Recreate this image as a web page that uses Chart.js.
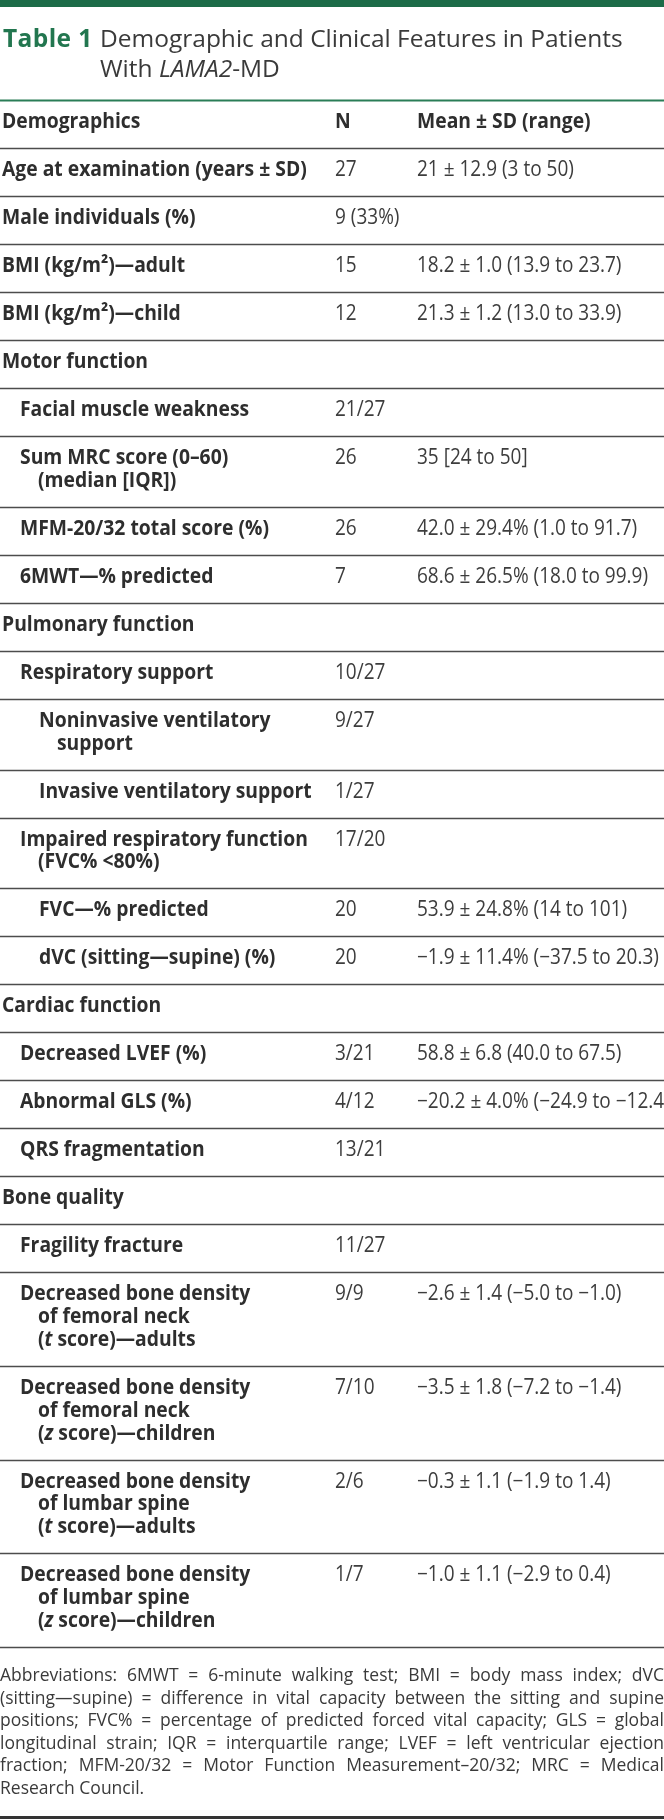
<!DOCTYPE html>
<html>
<head>
<meta charset="utf-8">
<title>Table 1 Demographic and Clinical Features in Patients With LAMA2-MD</title>
<script src="https://cdn.jsdelivr.net/npm/chart.js@4.4.1/dist/chart.umd.min.js"></script>
<style>
  html, body { margin: 0; padding: 0; background: #fff; }
  body { width: 664px; height: 1820px; position: relative; overflow: hidden; font-family: "Open Sans", sans-serif; }
  #topBar { position: absolute; left: 0; top: 0; width: 664px; height: 7px; background: #1d6b48; }
  #bottomRule { position: absolute; left: 0; top: 1816px; width: 664px; height: 3px; background: #333; }
  #tableCanvas { position: absolute; left: 0; top: 0; }
  .cap { position: absolute; top: 23px; white-space: nowrap; font-size: 24.5px; line-height: 30px; color: #3a3a3a; }
  .cap b { color: #22764f; font-weight: 700; letter-spacing: 0.4px; }
  #notes { position: absolute; left: 0; top: 1663px; width: 664px; font-size: 17.5px; line-height: 22.5px; color: #3a3a3a; }
  #notes div { height: 22.5px; white-space: nowrap; }
  #notes span { display: inline-block; white-space: nowrap; transform-origin: 0 0; }
</style>
</head>
<body>
<div id="topBar"></div>
<canvas id="tableCanvas" width="664" height="1820"></canvas>
<div class="cap" style="left:3px"><b>Table 1</b></div>
<div class="cap" style="left:100px">Demographic and Clinical Features in Patients<br>With <i>LAMA2</i>-MD</div>
<div id="notes">
  <div><span>Abbreviations: 6MWT = 6-minute walking test; BMI = body mass index; dVC</span></div>
  <div><span>(sitting—supine) = difference in vital capacity between the sitting and supine</span></div>
  <div><span>positions; FVC% = percentage of predicted forced vital capacity; GLS = global</span></div>
  <div><span>longitudinal strain; IQR = interquartile range; LVEF = left ventricular ejection</span></div>
  <div><span>fraction; MFM-20/32 = Motor Function Measurement–20/32; MRC = Medical</span></div>
  <div class="last"><span>Research Council.</span></div>
</div>
<div id="bottomRule"></div>
<script>
// ── Table data ──
const headers = ['Demographics', 'N', 'Mean ± SD (range)'];

// row labels, one entry per text line; _x_ = italic
const categories = [
  ['Age at examination (years ± SD)'],
  ['Male individuals (%)'],
  ['BMI (kg/m²)—adult'],
  ['BMI (kg/m²)—child'],
  ['Motor function'],
  ['Facial muscle weakness'],
  ['Sum MRC score (0–60)', '(median [IQR])'],
  ['MFM-20/32 total score (%)'],
  ['6MWT—% predicted'],
  ['Pulmonary function'],
  ['Respiratory support'],
  ['Noninvasive ventilatory', 'support'],
  ['Invasive ventilatory support'],
  ['Impaired respiratory function', '(FVC% <80%)'],
  ['FVC—% predicted'],
  ['dVC (sitting—supine) (%)'],
  ['Cardiac function'],
  ['Decreased LVEF (%)'],
  ['Abnormal GLS (%)'],
  ['QRS fragmentation'],
  ['Bone quality'],
  ['Fragility fracture'],
  ['Decreased bone density', 'of femoral neck', '(_t_ score)—adults'],
  ['Decreased bone density', 'of femoral neck', '(_z_ score)—children'],
  ['Decreased bone density', 'of lumbar spine', '(_t_ score)—adults'],
  ['Decreased bone density', 'of lumbar spine', '(_z_ score)—children']
];

// indent level of each row
const levels = [0, 0, 0, 0, 0, 1, 1, 1, 1, 0, 1, 2, 2, 1, 2, 2, 0, 1, 1, 1, 0, 1, 1, 1, 1, 1];

const nValues = [
  '27', '9 (33%)', '15', '12', '',
  '21/27', '26', '26', '7', '',
  '10/27', '9/27', '1/27', '17/20', '20', '20', '',
  '3/21', '4/12', '13/21', '',
  '11/27', '9/9', '7/10', '2/6', '1/7'
];

const meanValues = [
  '21 ± 12.9 (3 to 50)', '', '18.2 ± 1.0 (13.9 to 23.7)', '21.3 ± 1.2 (13.0 to 33.9)', '',
  '', '35 [24 to 50]', '42.0 ± 29.4% (1.0 to 91.7)', '68.6 ± 26.5% (18.0 to 99.9)', '',
  '', '', '', '', '53.9 ± 24.8% (14 to 101)', '−1.9 ± 11.4% (−37.5 to 20.3)', '',
  '58.8 ± 6.8 (40.0 to 67.5)', '−20.2 ± 4.0% (−24.9 to −12.4)', '', '',
  '', '−2.6 ± 1.4 (−5.0 to −1.0)', '−3.5 ± 1.8 (−7.2 to −1.4)', '−0.3 ± 1.1 (−1.9 to 1.4)', '−1.0 ± 1.1 (−2.9 to 0.4)'
];

// ── Layout (in y-scale "line" units) ──
const ROW_PAD = 1.1;      // space per row besides its text lines
const BASE_OFF = 1.225;   // first baseline below row top
const indentX = [2, 20, 39];
const CONT_INDENT = 18;
const colN = 335;
const colMean = 417;
const BOLD_SX = 0.92;     // narrow the face a little
const REG_SX = 0.905;

const totalUnits = (1 + ROW_PAD) + categories.reduce((s, c) => s + c.length + ROW_PAD, 0);

function drawRich(ctx, text, px, py, weight) {
  const parts = text.split('_');
  ctx.save();
  ctx.translate(px, py);
  ctx.scale(weight > 400 ? BOLD_SX : REG_SX, 1);
  let cx = 0;
  parts.forEach((p, i) => {
    if (!p) return;
    ctx.font = (i % 2 ? 'italic ' : '') + weight + ' 21px "Open Sans"';
    ctx.fillText(p, cx, 0);
    cx += ctx.measureText(p).width;
  });
  ctx.restore();
}

const tablePlugin = {
  id: 'tableCells',
  afterDraw(chart) {
    const { ctx, scales: { x, y } } = chart;
    ctx.save();
    ctx.textBaseline = 'alphabetic';
    ctx.textAlign = 'left';

    const rule = (u, color, w) => {
      const py = Math.round(y.getPixelForValue(u)) + 0.5;
      ctx.strokeStyle = color;
      ctx.lineWidth = w;
      ctx.beginPath();
      ctx.moveTo(x.getPixelForValue(0), py);
      ctx.lineTo(x.getPixelForValue(664), py);
      ctx.stroke();
    };

    // header row
    let u = 0;
    rule(u, '#2a7d57', 2);
    ctx.fillStyle = '#2e2e2e';
    const hy = y.getPixelForValue(u + BASE_OFF);
    drawRich(ctx, headers[0], x.getPixelForValue(indentX[0]), hy, 700);
    drawRich(ctx, headers[1], x.getPixelForValue(colN), hy, 700);
    drawRich(ctx, headers[2], x.getPixelForValue(colMean), hy, 700);
    u += 1 + ROW_PAD;
    rule(u, '#4d4d4d', 1.6);

    // body rows
    categories.forEach((lines, i) => {
      const lx = indentX[levels[i]];
      lines.forEach((txt, j) => {
        ctx.fillStyle = '#2e2e2e';
        drawRich(ctx, txt, x.getPixelForValue(lx + (j ? CONT_INDENT : 0)), y.getPixelForValue(u + BASE_OFF + j), 700);
      });
      const by = y.getPixelForValue(u + BASE_OFF);
      ctx.fillStyle = '#3d3d3d';
      if (nValues[i]) drawRich(ctx, nValues[i], x.getPixelForValue(colN), by, 400);
      if (meanValues[i]) drawRich(ctx, meanValues[i], x.getPixelForValue(colMean), by, 400);
      u += lines.length + ROW_PAD;
      rule(u, '#4d4d4d', 1.6);
    });
    ctx.restore();
  }
};

const chart = new Chart(document.getElementById('tableCanvas').getContext('2d'), {
  type: 'scatter',
  data: { datasets: [] },
  options: {
    responsive: false,
    animation: false,
    layout: { padding: { top: 100, bottom: 173, left: 0, right: 0 } },
    plugins: { legend: { display: false }, tooltip: { enabled: false } },
    scales: {
      x: { type: 'linear', min: 0, max: 664, display: false },
      y: { type: 'linear', min: 0, max: totalUnits, reverse: true, display: false }
    }
  },
  plugins: [tablePlugin]
});

// ── Footnote: justify each printed line to the full width ──
document.querySelectorAll('#notes div').forEach(div => {
  if (div.classList.contains('last')) return;
  const span = div.querySelector('span');
  const w = span.getBoundingClientRect().width;
  const gaps = (span.textContent.match(/ /g) || []).length;
  if (w <= 664) {
    span.style.wordSpacing = ((664 - w) / gaps) + 'px';
  } else {
    span.style.transform = 'scaleX(' + (664 / w) + ')';
  }
});
</script>
</body>
</html>
